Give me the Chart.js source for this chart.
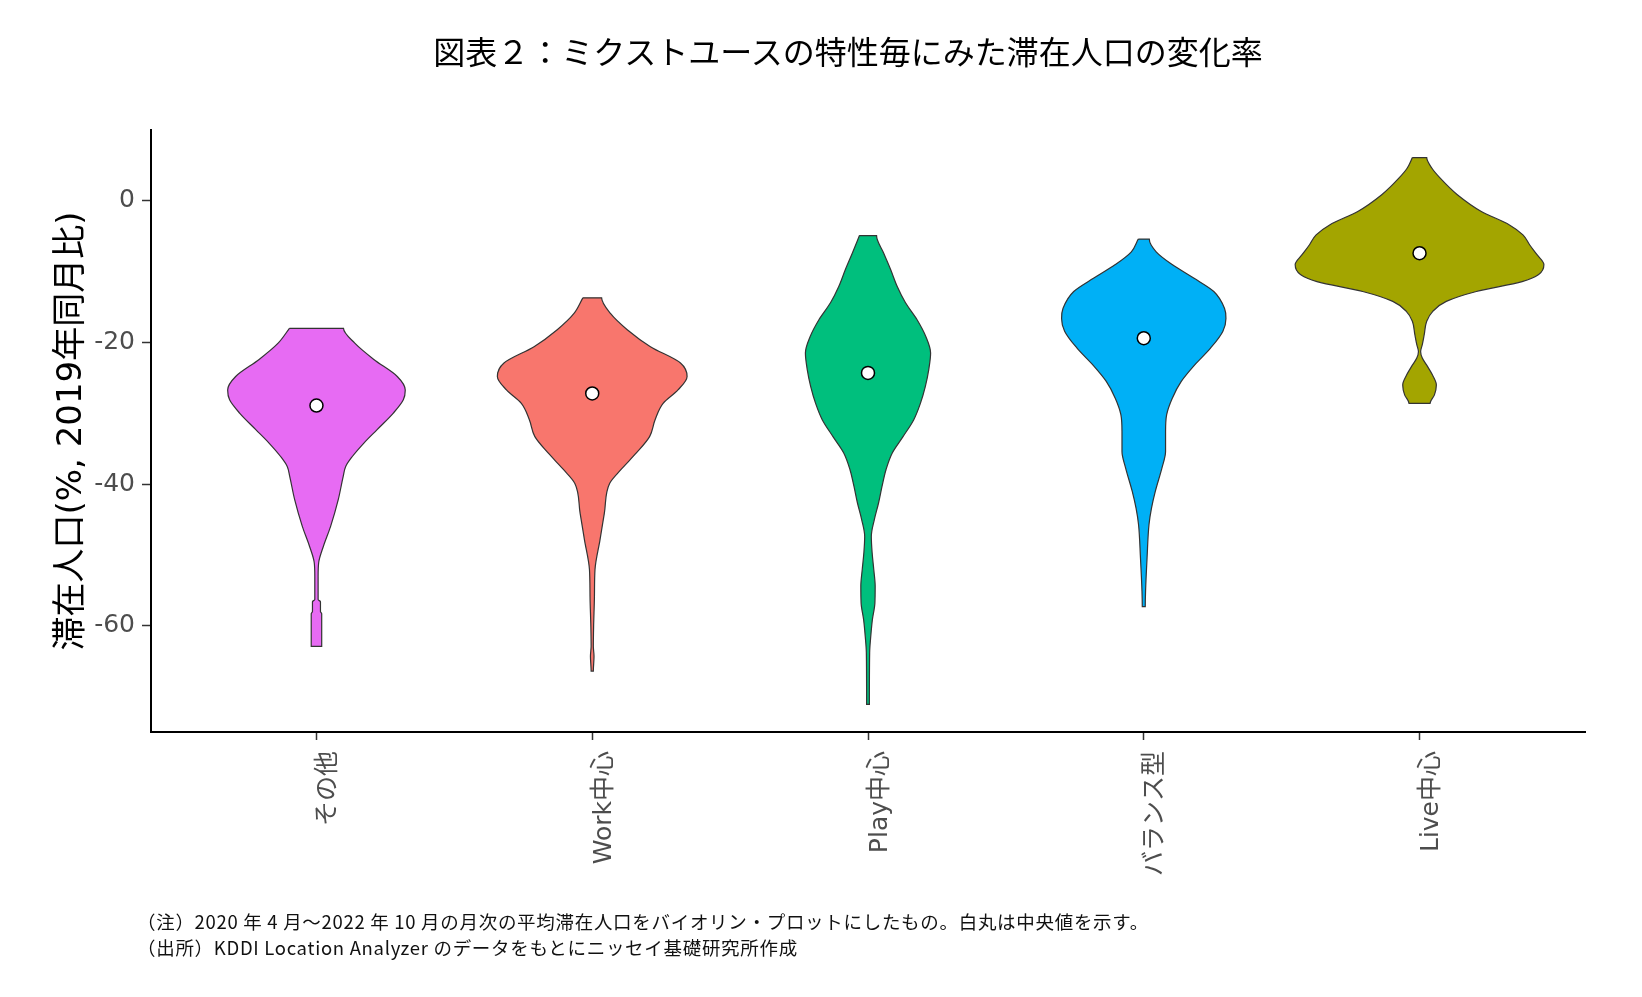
<!DOCTYPE html>
<html lang="ja">
<head>
<meta charset="utf-8">
<title>図表２：ミクストユースの特性毎にみた滞在人口の変化率</title>
<script src="https://cdn.jsdelivr.net/npm/chart.js@4.4.1/dist/chart.umd.min.js"></script>
<style>
  html, body { margin: 0; padding: 0; background: #fff; }
  #wrap { position: relative; width: 1642px; height: 997px; overflow: hidden; }
  #chart-box { position: absolute; left: 0; top: 0; width: 1642px; height: 997px; }
  .title {
    position: absolute; left: 848px; top: 50px; transform: translate(-50%, -50%);
    font: 32px 'Noto Sans CJK JP', sans-serif; color: #000; white-space: nowrap;
  }
  .note {
    position: absolute; left: 137px; transform: translateY(-50%);
    font: 18.5px 'Noto Sans CJK JP', sans-serif; letter-spacing: 0.7px;
    color: #111; white-space: nowrap;
  }
</style>
</head>
<body>
<div id="wrap">
  <div id="chart-box"><canvas id="violin"></canvas></div>
  <div class="title">図表２：ミクストユースの特性毎にみた滞在人口の変化率</div>
  <div class="note" style="top:921px">（注）2020 年 4 月～2022 年 10 月の月次の平均滞在人口をバイオリン・プロットにしたもの。白丸は中央値を示す。</div>
  <div class="note" style="top:947px">（出所）KDDI Location Analyzer のデータをもとにニッセイ基礎研究所作成</div>
</div>
<script>
// categories and y ticks
const categories = ['その他', 'Work中心', 'Play中心', 'バランス型', 'Live中心'];
const yTicks = [-60, -40, -20, 0];
const colors = ['#E76BF3', '#F8766D', '#00BF7D', '#00B0F6', '#A3A500'];

// median per category (white dots)
const medians = [-28.9, -27.2, -24.3, -19.4, -7.4];

// violin outlines: levels (y) and half-width of the density (in category units)
const otherY = [-18.0, -20.1, -22.4, -24.8, -26.7, -28.1, -30.0, -32.3, -34.2, -36.1, -37.5, -38.9, -42.2, -46.0, -48.8, -51.1, -53.0, -56.3, -56.6, -58.0, -58.3, -62.9];
const otherW = [0.098, 0.139, 0.208, 0.293, 0.322, 0.315, 0.278, 0.220, 0.172, 0.130, 0.106, 0.097, 0.079, 0.051, 0.025, 0.008, 0.006, 0.006, 0.0145, 0.0145, 0.019, 0.019];

const workY = [-13.7, -15.9, -18.2, -20.6, -22.9, -24.8, -26.7, -28.6, -30.9, -33.3, -35.6, -38.0, -39.9, -44.1, -47.9, -52.1, -55.9, -60.1, -62.9, -64.3, -66.4];
const workW = [0.034, 0.066, 0.127, 0.211, 0.320, 0.344, 0.311, 0.257, 0.228, 0.208, 0.160, 0.103, 0.063, 0.044, 0.028, 0.010, 0.008, 0.005, 0.004, 0.0065, 0.004];

const playY = [-4.9, -7.4, -9.7, -12.1, -14.4, -16.8, -19.2, -21.5, -23.9, -26.2, -28.6, -30.9, -33.3, -35.6, -38.0, -40.3, -42.7, -45.0, -47.4, -49.7, -52.1, -54.4, -56.8, -59.1, -61.5, -63.8, -71.1];
const playW = [0.031, 0.057, 0.082, 0.106, 0.136, 0.178, 0.210, 0.227, 0.220, 0.208, 0.190, 0.166, 0.127, 0.088, 0.065, 0.051, 0.038, 0.023, 0.012, 0.015, 0.021, 0.026, 0.025, 0.016, 0.010, 0.006, 0.005];

const balanceY = [-5.4, -7.2, -9.0, -10.9, -12.8, -15.2, -16.6, -18.4, -20.8, -23.2, -25.5, -27.9, -30.2, -32.6, -35.4, -37.7, -41.0, -43.4, -45.7, -50.4, -55.1, -57.3];
const balanceW = [0.020, 0.045, 0.103, 0.181, 0.254, 0.293, 0.298, 0.287, 0.242, 0.184, 0.136, 0.103, 0.083, 0.079, 0.079, 0.066, 0.042, 0.028, 0.019, 0.012, 0.0065, 0.0054];

const liveY = [6.1, 4.6, 3.2, 0.9, -1.5, -3.4, -4.8, -6.2, -7.6, -9.0, -10.4, -11.4, -12.8, -14.2, -15.6, -17.0, -18.9, -20.3, -21.3, -22.2, -23.2, -24.6, -26.0, -27.4, -28.6];
const liveW = [0.026, 0.045, 0.075, 0.136, 0.224, 0.326, 0.375, 0.399, 0.426, 0.451, 0.432, 0.372, 0.206, 0.097, 0.048, 0.026, 0.017, 0.010, 0.004, 0.010, 0.026, 0.047, 0.061, 0.054, 0.038];

const violins = [[otherY, otherW], [workY, workW], [playY, playW], [balanceY, balanceW], [liveY, liveW]];

// closed outline: left side top->bottom, right side bottom->top, back to start
function outline(center, ys, ws) {
    const left = ys.map((y, k) => ({ x: center - ws[k], y }));
    const right = ys.map((y, k) => ({ x: center + ws[k], y })).reverse();
    return [...left, ...right, left[0]];
}

const tickFont = { family: "'DejaVu Sans', 'Noto Sans CJK JP', sans-serif", size: 25 };

const datasets = [{
    label: '中央値',
    data: medians.map((m, i) => ({ x: i + 1, y: m })),
    showLine: false,
    pointRadius: 6.5,
    pointBackgroundColor: '#ffffff',
    pointBorderColor: '#000000',
    pointBorderWidth: 1.5
}];

violins.forEach(([ys, ws], i) => {
    datasets.push({
        label: categories[i],
        data: outline(i + 1, ys, ws),
        fill: 'shape',
        backgroundColor: colors[i],
        borderColor: '#333333',
        borderWidth: 1.2,
        pointRadius: 0,
        cubicInterpolationMode: 'monotone'
    });
});

new Chart(document.getElementById('violin').getContext('2d'), {
    type: 'line',
    data: { datasets },
    options: {
        indexAxis: 'y',
        responsive: true,
        maintainAspectRatio: false,
        animation: false,
        events: [],
        layout: { padding: { left: 0, right: 57, top: 130, bottom: 0 } },
        plugins: {
            legend: { display: false },
            tooltip: { enabled: false }
        },
        scales: {
            x: {
                type: 'linear',
                min: 0.4,
                max: 5.6,
                afterBuildTicks: s => { s.ticks = categories.map((_, i) => ({ value: i + 1 })); },
                afterFit: s => { s.height = 265; },
                grid: { drawOnChartArea: false, tickLength: 8, tickColor: '#333', tickWidth: 1.5 },
                border: { color: '#000', width: 2 },
                ticks: {
                    autoSkip: false,
                    minRotation: 90,
                    maxRotation: 90,
                    padding: 11,
                    labelOffset: 12,
                    color: '#4d4d4d',
                    font: tickFont,
                    callback: v => categories[Math.round(v) - 1]
                }
            },
            y: {
                type: 'linear',
                min: -75,
                max: 10,
                afterBuildTicks: s => { s.ticks = yTicks.map(v => ({ value: v })); },
                afterFit: s => { s.width = 151; },
                grid: { drawOnChartArea: false, tickLength: 9, tickColor: '#333', tickWidth: 1.5 },
                border: { color: '#000', width: 2 },
                ticks: {
                    padding: 7,
                    color: '#4d4d4d',
                    font: tickFont,
                    callback: v => String(v)
                },
                title: {
                    display: true,
                    text: '滞在人口(%, 2019年同月比)',
                    color: '#000',
                    font: { family: "'DejaVu Sans', 'Noto Sans CJK JP', sans-serif", size: 34 },
                    padding: { top: 52, bottom: 0 }
                }
            }
        }
    }
});
</script>
</body>
</html>
